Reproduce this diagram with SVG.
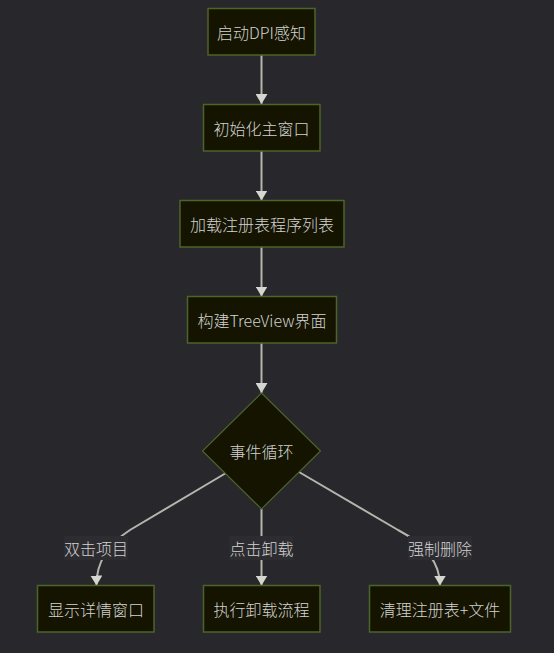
<svg xmlns="http://www.w3.org/2000/svg" width="554" height="653" viewBox="0 0 554 653">
<defs>
<style>
.node rect, .node polygon { fill: #141400; stroke: #4d6428; stroke-width: 1.5; }
.node polygon { stroke-width: 1.2; }
text { font-family: "Noto Sans CJK SC", "DejaVu Sans", sans-serif; font-size: 16px; font-weight: 300; fill: #d2d2d2; text-anchor: middle; dominant-baseline: central; }
.edge { fill: none; stroke: #b5b5ad; stroke-width: 2; }
.lbl rect { fill: #2d2d31; }
</style>
<marker id="arrow" markerUnits="userSpaceOnUse" markerWidth="10" markerHeight="12" viewBox="0 0 10 12" refX="10" refY="6" orient="auto">
<path d="M0,0 L10,6 L0,12 z" fill="#d6d6d0"/>
</marker>
</defs>
<rect width="554" height="653" fill="#27272c"/>
<g id="edges">
<line class="edge" x1="261.5" y1="55" x2="261.5" y2="104" marker-end="url(#arrow)"/>
<line class="edge" x1="261.5" y1="151" x2="261.5" y2="200.5" marker-end="url(#arrow)"/>
<line class="edge" x1="261.5" y1="247" x2="261.5" y2="296.5" marker-end="url(#arrow)"/>
<line class="edge" x1="261.5" y1="343" x2="261.5" y2="393" marker-end="url(#arrow)"/>
<path class="edge" d="M226,473 L130,530 Q96,552 96.5,585.5" marker-end="url(#arrow)"/>
<line class="edge" x1="261.5" y1="509" x2="261.5" y2="585.5" marker-end="url(#arrow)"/>
<path class="edge" d="M299,472 L398,530 Q440,552 440,585.5" marker-end="url(#arrow)"/>
<g class="lbl"><rect x="64" y="536" width="64" height="24"/><text x="96" y="548">双击项目</text></g>
<g class="lbl"><rect x="229.5" y="536" width="64" height="24"/><text x="261.5" y="548">点击卸载</text></g>
<g class="lbl"><rect x="408" y="536" width="64" height="24"/><text x="440" y="548">强制删除</text></g>
</g>
<g id="n1" class="node"><rect x="208" y="8.5" width="107" height="46.5"/><text x="261.5" y="32">启动DPI感知</text></g>
<g id="n2" class="node"><rect x="203.5" y="104.5" width="116.5" height="46.5"/><text x="261.5" y="128">初始化主窗口</text></g>
<g id="n3" class="node"><rect x="180" y="200.5" width="164" height="46.5"/><text x="262" y="224">加载注册表程序列表</text></g>
<g id="n4" class="node"><rect x="187.5" y="296.5" width="149" height="46.5"/><text x="262" y="320">构建TreeView界面</text></g>
<g id="n5" class="node"><polygon points="261.5,393 320.5,451 261.5,509 202.5,451"/><text x="261.5" y="451">事件循环</text></g>
<g id="n6" class="node"><rect x="37.5" y="585.5" width="116.5" height="46.5"/><text x="96" y="609">显示详情窗口</text></g>
<g id="n7" class="node"><rect x="203.5" y="585.5" width="116.5" height="46.5"/><text x="261.5" y="609">执行卸载流程</text></g>
<g id="n8" class="node"><rect x="369.5" y="585.5" width="141" height="46.5"/><text x="440" y="609">清理注册表+文件</text></g>
</svg>
